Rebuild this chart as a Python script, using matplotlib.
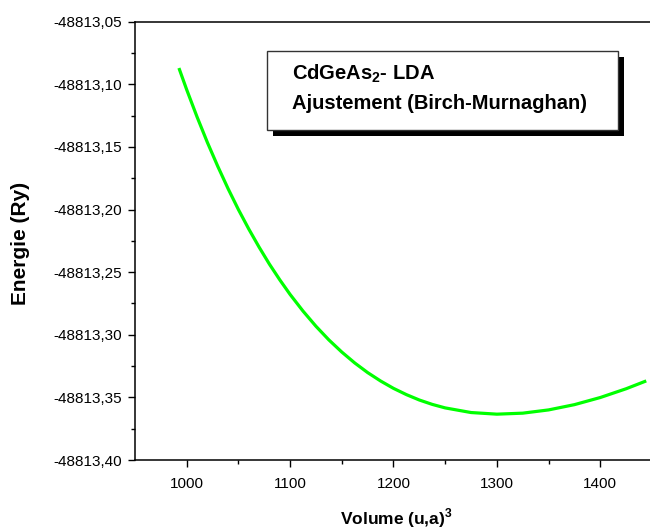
import matplotlib
matplotlib.use("Agg")
import matplotlib.pyplot as plt
from matplotlib.ticker import FixedLocator, FuncFormatter
from matplotlib.patches import Rectangle

# Birch-Murnaghan fitted E(V) curve for CdGeAs2 (LDA)
volume = [993, 1000, 1010, 1020, 1030, 1040, 1050, 1060, 1070, 1080, 1090,
          1100, 1112.5, 1125, 1137.5, 1150, 1162.5, 1175, 1187.5, 1200,
          1212.5, 1225, 1237.5, 1250, 1275, 1300, 1325, 1350, 1375, 1400,
          1425, 1443]
energy = [-48813.0882, -48813.1043, -48813.1260, -48813.1464, -48813.1654,
          -48813.1833, -48813.2000, -48813.2155, -48813.2300, -48813.2436,
          -48813.2561, -48813.2678, -48813.2811, -48813.2932, -48813.3041,
          -48813.3138, -48813.3225, -48813.3302, -48813.3369, -48813.3428,
          -48813.3478, -48813.3521, -48813.3556, -48813.3584, -48813.3621,
          -48813.3634, -48813.3626, -48813.3600, -48813.3558, -48813.3501,
          -48813.3431, -48813.3373]

x_ticks = [1000, 1100, 1200, 1300, 1400]
x_minor = [1050, 1150, 1250, 1350, 1450]
y_ticks = [-48813.40, -48813.35, -48813.30, -48813.25, -48813.20,
           -48813.15, -48813.10, -48813.05]
y_minor = [-48813.375, -48813.325, -48813.275, -48813.225, -48813.175,
           -48813.125, -48813.075]

plt.rcParams["font.family"] = ["Liberation Sans", "DejaVu Sans"]
plt.rcParams["mathtext.fontset"] = "custom"
plt.rcParams["mathtext.rm"] = "Liberation Sans"
plt.rcParams["mathtext.bf"] = "Liberation Sans:bold"

fig = plt.figure(figsize=(6.5, 5.3), dpi=100)
ax = fig.add_axes([135 / 650, 70 / 530, 517 / 650, 438.3 / 530])

ax.plot(volume, energy, color="#00ff00", lw=2.3, solid_joinstyle="round")

ax.set_xlim(950, 1450)
ax.set_ylim(-48813.40, -48813.05)

ax.xaxis.set_major_locator(FixedLocator(x_ticks))
ax.xaxis.set_minor_locator(FixedLocator(x_minor))
ax.yaxis.set_major_locator(FixedLocator(y_ticks))
ax.yaxis.set_minor_locator(FixedLocator(y_minor))
ax.xaxis.set_major_formatter(FuncFormatter(lambda v, p: f"{v:.0f}"))
ax.yaxis.set_major_formatter(FuncFormatter(lambda v, p: f"{v:.2f}".replace(".", ",")))

for s in ax.spines.values():
    s.set_linewidth(1.1)
    s.set_color("black")

ax.tick_params(axis="both", which="major", direction="out", length=5,
               width=1.0, labelsize=11, pad=4.5)
ax.tick_params(axis="x", which="major", pad=7.5)
ax.tick_params(axis="both", which="minor", direction="out", length=3, width=1.0)
ax.tick_params(top=False, right=False, which="both")

fig.text(396 / 650, 1 - 524 / 530, r"Volume (u,a)$^\mathbf{3}$",
         ha="center", va="baseline", fontsize=12.5, fontweight="bold")
fig.text(21 / 650, 1 - 243 / 530, "Energie (Ry)", rotation=90,
         ha="center", va="center", fontsize=15, fontweight="bold")

# Caption box with a drop shadow
bx0, by0, bw, bh = 266.7 / 650, 1 - 130 / 530, 351.3 / 650, 79 / 530
fig.patches.append(Rectangle((bx0 + 6 / 650, by0 - 6 / 530), bw, bh,
                             transform=fig.transFigure, facecolor="black",
                             edgecolor="black", lw=0, zorder=5))
fig.patches.append(Rectangle((bx0, by0), bw, bh, transform=fig.transFigure,
                             facecolor="white", edgecolor="#333333", lw=1.0,
                             zorder=6))
fig.text(292 / 650, 1 - 79.3 / 530, r"CdGeAs$_\mathbf{2}$- LDA",
         ha="left", va="baseline", fontsize=14.5, fontweight="bold", zorder=7)
fig.text(292 / 650, 1 - 109.3 / 530, "Ajustement (Birch-Murnaghan)",
         ha="left", va="baseline", fontsize=14.5, fontweight="bold", zorder=7)

fig.savefig("out.png", dpi=100)
